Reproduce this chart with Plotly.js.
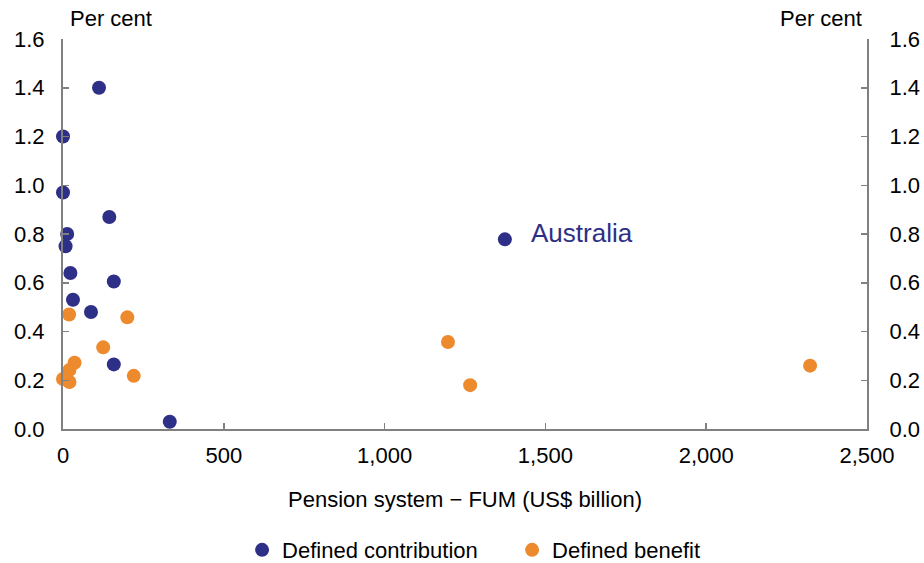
<!DOCTYPE html>
<html><head><meta charset="utf-8">
<script src="https://cdn.plot.ly/plotly-3.0.1.min.js"></script>
<style>html,body{margin:0;padding:0;background:#fff}#chart{width:924px;height:563px}</style>
</head><body><div id="chart"></div>
<script>
// Defined contribution: FUM (US$ billion), cost (per cent)
const dcFum  = [112, 0, 0, 144, 13, 8, 23, 158, 31, 87, 158, 332, 1374];
const dcCost = [1.40, 1.20, 0.97, 0.87, 0.80, 0.75, 0.64, 0.605, 0.53, 0.48, 0.265, 0.03, 0.778];
// Defined benefit
const dbFum  = [19, 200, 125, 36, 20, 0, 20, 220, 1197, 1266, 2323];
const dbCost = [0.47, 0.458, 0.335, 0.272, 0.242, 0.205, 0.193, 0.218, 0.357, 0.18, 0.26];
const xTicks = [0, 500, 1000, 1500, 2000, 2500];
const yTicks = [0, 0.2, 0.4, 0.6, 0.8, 1.0, 1.2, 1.4, 1.6];
const seriesNames = ['Defined contribution', 'Defined benefit'];
const navy = '#2E2F86', orange = '#EE8A2E';
const font = {family: 'Liberation Sans, Arial, sans-serif', size: 22, color: '#000'};

const traces = [
  {x: dcFum, y: dcCost, name: seriesNames[0], type: 'scatter', mode: 'markers', cliponaxis: false,
   marker: {color: navy, size: 14}},
  {x: dbFum, y: dbCost, name: seriesNames[1], type: 'scatter', mode: 'markers', cliponaxis: false,
   marker: {color: orange, size: 14}},
  {x: [0], y: [0], yaxis: 'y2', showlegend: false, hoverinfo: 'skip', mode: 'markers',
   marker: {opacity: 0}}
];

const axisCommon = {showgrid: false, zeroline: false, showline: true, linecolor: '#808080', linewidth: 2,
  ticks: 'inside', ticklen: 6, tickcolor: '#808080', tickwidth: 1.5, tickfont: font, fixedrange: true,
  automargin: false};

const layout = {
  width: 924, height: 563,
  margin: {l: 63, r: 57, t: 39, b: 134},
  paper_bgcolor: '#fff', plot_bgcolor: '#fff',
  font: font,
  showlegend: true,
  legend: {orientation: 'h', x: 0.262, xref: 'container', xanchor: 'left', y: 0.023, yref: 'container',
    yanchor: 'middle', font: font, itemwidth: 30, tracegroupgap: 0, entrywidth: 225, entrywidthmode: 'pixels'},
  xaxis: Object.assign({}, axisCommon, {range: [0, 2500], tickvals: xTicks, tickformat: ',',
    ticklabelstandoff: 6,
    title: {text: 'Pension system \u2212 FUM (US$ billion)', font: font, standoff: 24}}),
  yaxis: Object.assign({}, axisCommon, {range: [0, 1.6], tickvals: yTicks, tickformat: '.1f', ticklabelstandoff: 12}),
  yaxis2: Object.assign({}, axisCommon, {range: [0, 1.6], tickvals: yTicks, tickformat: '.1f',
    overlaying: 'y', side: 'right', ticklabelstandoff: 16}),
  annotations: [
    {text: 'Per cent', xref: 'paper', yref: 'paper', x: 0, y: 1, xanchor: 'left', yanchor: 'bottom',
     xshift: 5, yshift: 6, showarrow: false, font: font},
    {text: 'Per cent', xref: 'paper', yref: 'paper', x: 1, y: 1, xanchor: 'right', yanchor: 'bottom',
     xshift: -3, yshift: 6, showarrow: false, font: font},
    {text: 'Australia', xref: 'x', yref: 'y', x: dcFum[12], y: dcCost[12], xanchor: 'left', yanchor: 'middle',
     xshift: 24, yshift: 6, showarrow: false, font: {family: font.family, size: 26, color: navy}}
  ]
};

Plotly.newPlot('chart', traces, layout, {staticPlot: true, displayModeBar: false});
</script></body></html>
